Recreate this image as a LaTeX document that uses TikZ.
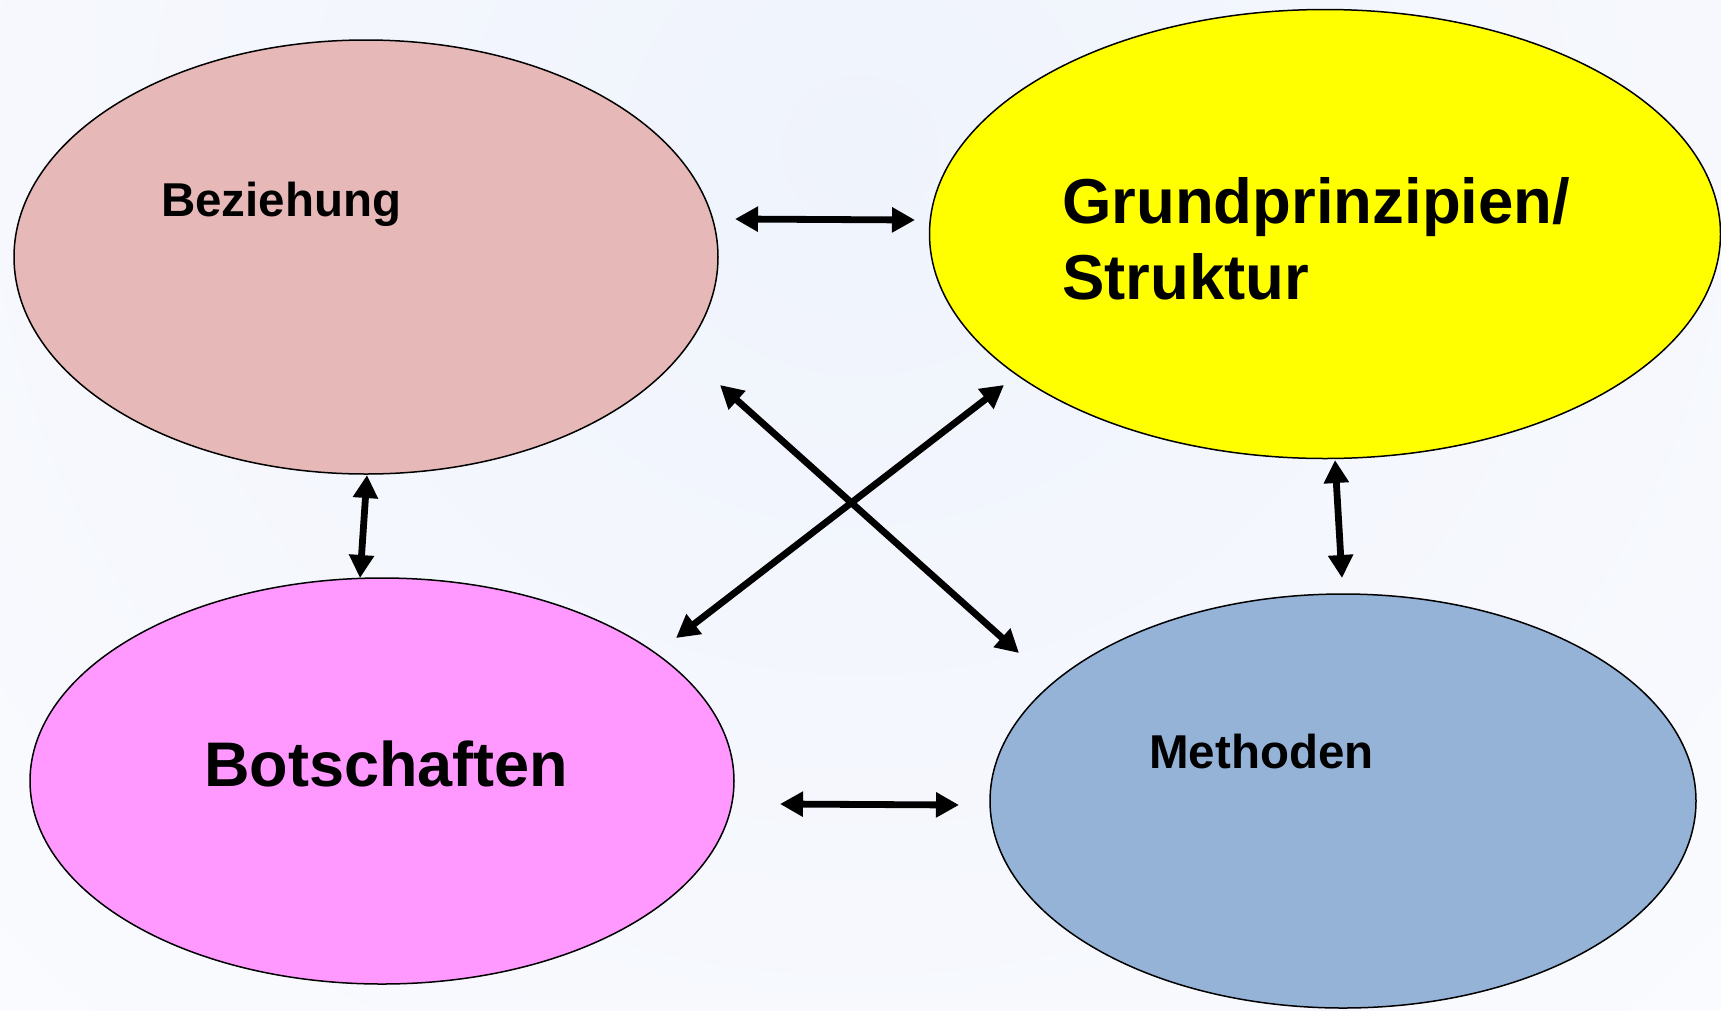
\documentclass[tikz,border=0pt]{standalone}
\usepackage{fontspec}
\setmainfont{Liberation Sans}
\usetikzlibrary{shapes.geometric,arrows.meta}
\definecolor{bgblue}{RGB}{239,243,252}
\definecolor{bezc}{RGB}{230,184,183}
\definecolor{grundc}{RGB}{255,255,0}
\definecolor{botc}{RGB}{255,153,255}
\definecolor{methc}{RGB}{149,179,215}
\tikzset{
  blob/.style={ellipse, draw=black, line width=1.5pt, inner sep=0pt},
  lbl/.style={anchor=base west, inner sep=0pt, font=\bfseries, align=left},
  link/.style={line width=6.8pt, {Triangle[length=23pt,width=24pt]}-{Triangle[length=23pt,width=24pt]}},
}
\begin{document}
\begin{tikzpicture}[x=1pt,y=-1pt]
\useasboundingbox (0,0) rectangle (1721,1010);
\begin{scope}
\clip (0,0) rectangle (1721,1010);
\fill[white] (0,0) rectangle (1721,1010);
\shade[inner color=bgblue, outer color=white] (860,150) ellipse (1900 and 1800);
\end{scope}

\node[blob, fill=bezc, minimum width=704pt, minimum height=434pt] (bez) at (366,257) {};
\node[blob, fill=grundc, minimum width=791pt, minimum height=449pt] (grund) at (1325,234) {};
\node[blob, fill=botc, minimum width=704pt, minimum height=406pt] (bot) at (382,781) {};
\node[blob, fill=methc, minimum width=706pt, minimum height=414pt] (meth) at (1343,801) {};

\node[lbl, font=\bfseries\fontsize{47.5}{56}\selectfont] (tbez) at (161,216) {Beziehung};
\node[lbl, font=\bfseries\fontsize{63.5}{76}\selectfont] (tgrund) at (1062,299) {Grundprinzipien/\\Struktur};
\node[lbl, font=\bfseries\fontsize{63}{76}\selectfont] (tbot) at (204,786) {Botschaften};
\node[lbl, font=\bfseries\fontsize{47.5}{56}\selectfont] (tmeth) at (1149,768) {Methoden};

\coordinate (h1a) at (735,219);
\coordinate (h1b) at (915,220);
\coordinate (h2a) at (780,804);
\coordinate (h2b) at (959,805);
\coordinate (v1a) at (367,475);
\coordinate (v1b) at (360,578);
\coordinate (v2a) at (1335,460);
\coordinate (v2b) at (1342,578);
\coordinate (d1a) at (720,385);
\coordinate (d1b) at (1019,653);
\coordinate (d2a) at (1004,385);
\coordinate (d2b) at (676,638);

\draw[link] (h1a) -- (h1b);
\draw[link] (h2a) -- (h2b);
\draw[link] (v1a) -- (v1b);
\draw[link] (v2a) -- (v2b);
\draw[link] (d1a) -- (d1b);
\draw[link] (d2a) -- (d2b);
\end{tikzpicture}
\end{document}
